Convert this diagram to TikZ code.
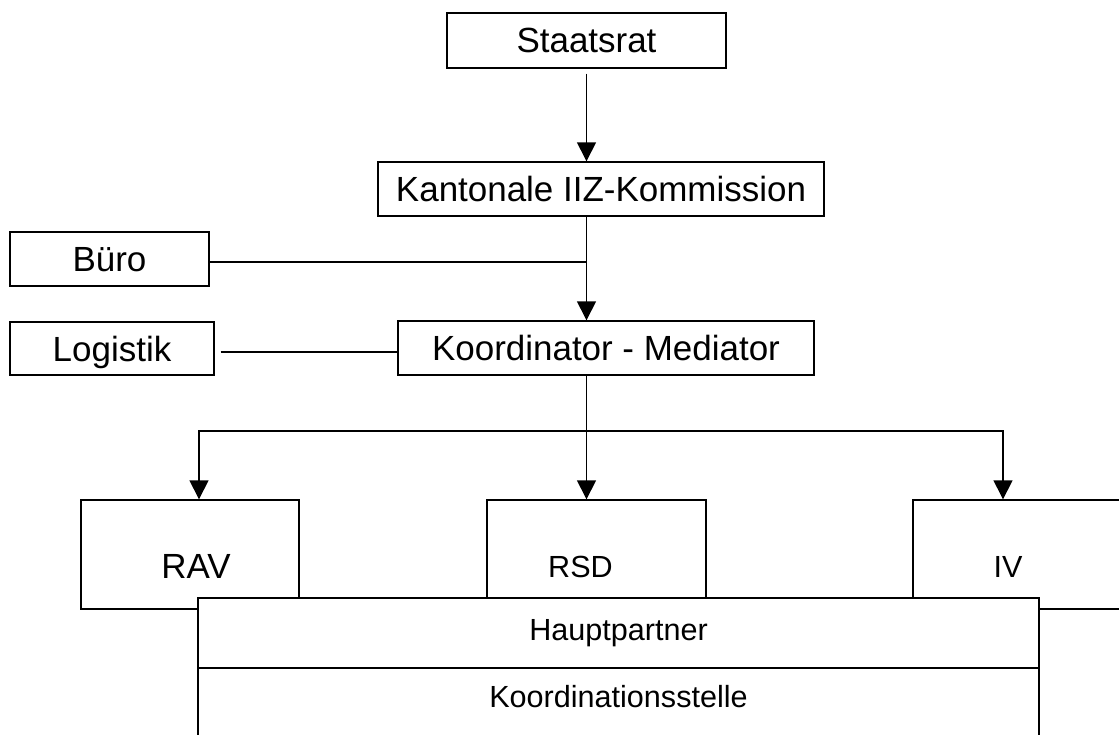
\documentclass[tikz,border=0pt]{standalone}
\usepackage{fontspec}
\setmainfont{Liberation Sans}
\usetikzlibrary{arrows.meta}

\begin{document}
\begin{tikzpicture}[x=0.02cm,y=-0.02cm,line width=0.8pt,
  box/.style={draw,fill=white,inner sep=0pt,text depth=0pt,font=\fontsize{19.9}{24}\selectfont},
  gross/.style={font=\fontsize{19.9}{24}\selectfont},
  klein/.style={font=\fontsize{17.4}{21}\selectfont},
  pfeil/.style={-{Triangle[length=0.38cm,width=0.38cm]}}]
\useasboundingbox (0,0) rectangle (1119,734);
\clip (0,0) rectangle (1119,734);
% obere Ebene
\node[box,minimum width=5.58cm,minimum height=1.1cm] (staatsrat) at (586.5,40.5) {Staatsrat};
\node[box,minimum width=8.92cm,minimum height=1.08cm] (kommission) at (601,189) {Kantonale IIZ-Kommission};
\node[box,minimum width=3.98cm,minimum height=1.08cm] (buero) at (109.5,259) {Büro};
\node[box,minimum width=4.08cm,minimum height=1.06cm] (logistik) at (112,348.5) {Logistik};
\node[box,minimum width=8.32cm,minimum height=1.08cm] (koordinator) at (606,348) {Koordinator - Mediator};
% Partner
\node[box,minimum width=4.36cm,minimum height=2.18cm,
  label={[gross,xshift=0.12cm,yshift=-0.23cm]center:RAV}] (rav) at (190,554.5) {};
\node[box,minimum width=4.38cm,minimum height=2.18cm,
  label={[klein,xshift=-0.32cm,yshift=-0.25cm]center:RSD}] (rsd) at (596.5,554.5) {};
\node[box,minimum width=4.36cm,minimum height=2.18cm,
  label={[klein,xshift=-0.28cm,yshift=-0.25cm]center:IV}] (iv) at (1022,554.5) {};
\node[box,klein,text depth=0.4em,minimum width=16.82cm,minimum height=1.4cm] (haupt) at (618.5,633) {Hauptpartner};
\node[box,minimum width=16.82cm,minimum height=1.84cm,
  label={[klein,yshift=0.34cm]center:Koordinationsstelle}] (stelle) at (618.5,714) {};
% Verbindungen
\coordinate (knoten) at (586.5,431);
\coordinate (links) at (199,431);
\coordinate (rechts) at (1003,431);
\draw[pfeil,shorten <=0.1cm] (staatsrat) -- (staatsrat |- kommission.north);
\draw[pfeil] (kommission.south -| staatsrat) -- (koordinator.north -| staatsrat);
\draw ([yshift=-0.06cm]buero.east) -- ([yshift=-0.06cm]buero.east -| staatsrat);
\draw ([xshift=0.12cm,yshift=-0.07cm]logistik.east) -- ([yshift=-0.07cm]logistik.east -| koordinator.west);
\draw[pfeil] (koordinator.south -| staatsrat) -- (rsd.north -| staatsrat);
\draw[pfeil] (knoten) -- (links) -- (links |- rav.north);
\draw[pfeil] (knoten) -- (rechts) -- (rechts |- iv.north);
\end{tikzpicture}
\end{document}
